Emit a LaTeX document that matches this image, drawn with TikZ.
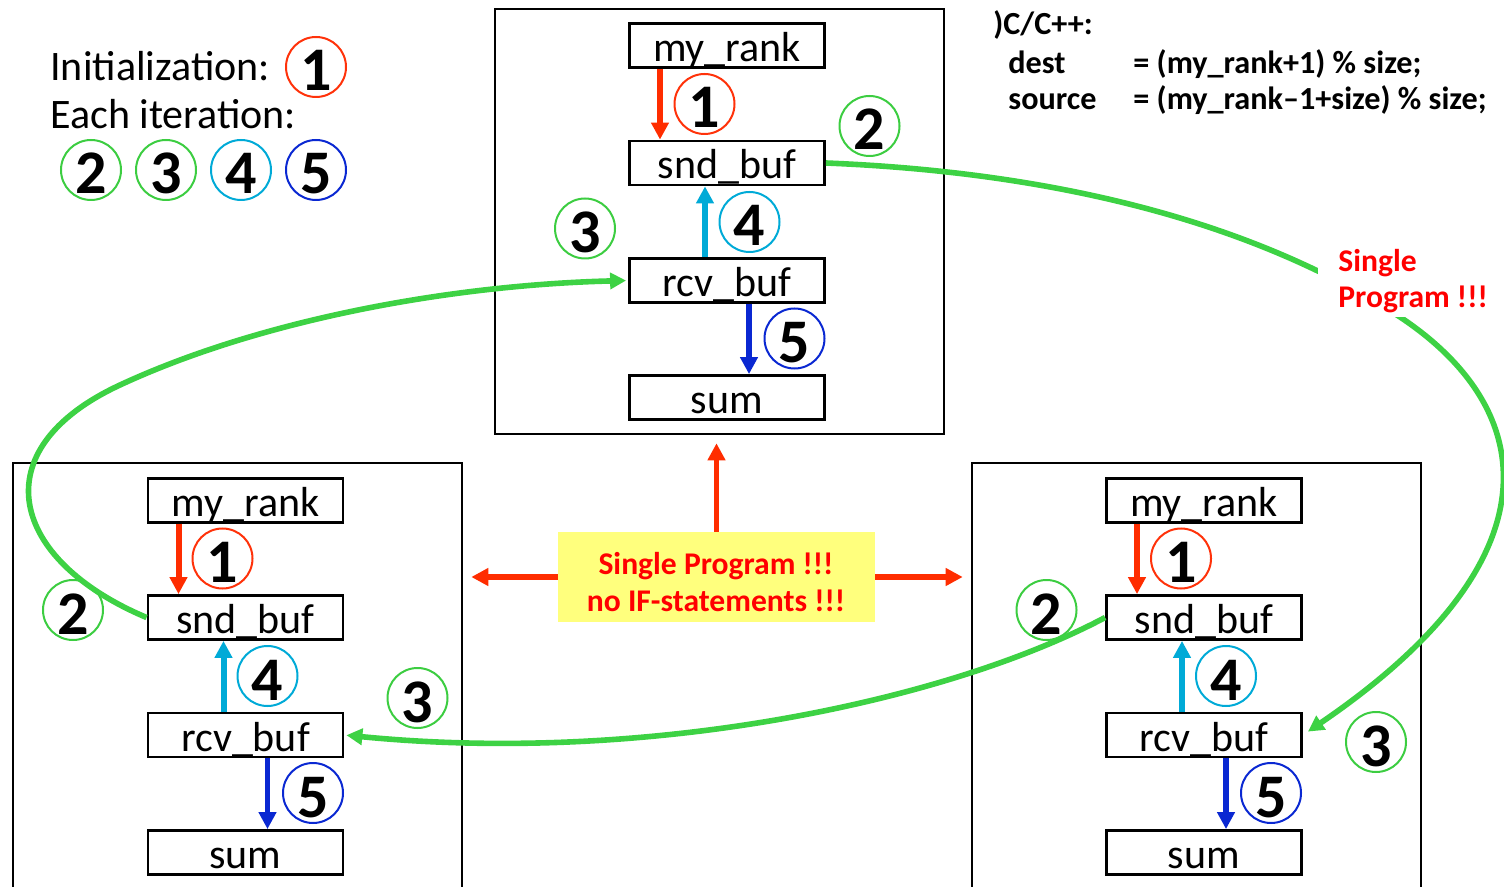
\documentclass[tikz,border=0pt]{standalone}
\usepackage{fontspec}
\setmainfont{Carlito}
\usetikzlibrary{arrows.meta}

\definecolor{arrred}{RGB}{255,45,0}
\definecolor{txtred}{RGB}{255,0,0}
\definecolor{ringred}{RGB}{255,50,10}
\definecolor{ringgreen}{RGB}{60,205,65}
\definecolor{flowgreen}{RGB}{61,210,68}
\definecolor{ringcyan}{RGB}{0,170,215}
\definecolor{ringblue}{RGB}{10,40,210}
\definecolor{notefill}{RGB}{255,255,125}

\tikzset{
  procbox/.style={draw, line width=1.3pt, inner sep=0pt, minimum width=224.5pt},
  cellbox/.style={draw, line width=1.4pt, inner sep=0pt, minimum width=97.5pt,
    minimum height=22pt, text height=19pt, text depth=3pt,
    font=\fontsize{21}{25}\selectfont},
  numc/.style={circle, draw, line width=1pt, inner sep=0pt, minimum size=30pt,
    text height=24pt, text depth=0pt, font=\bfseries\fontsize{31}{31}\selectfont},
  plaintext/.style={inner sep=0pt, font=\fontsize{21}{25}\selectfont},
  codetext/.style={inner sep=0pt, font=\bfseries\fontsize{16.1}{18}\selectfont},
  redtext/.style={text=txtred, font=\bfseries\fontsize{15.8}{18}\selectfont},
  tipA/.style={-{Triangle[length=8.5pt,width=8.5pt]}},
  initarrow/.style={tipA, draw=arrred, fill=arrred, line width=3pt},
  copyarrow/.style={tipA, draw=ringcyan, fill=ringcyan, line width=3pt},
  addarrow/.style={tipA, draw=ringblue, fill=ringblue, line width=2.8pt},
  notearrow/.style={tipA, draw=arrred, fill=arrred, line width=2.8pt, shorten >=4pt},
  flow/.style={-{Triangle[length=8pt,width=8pt]}, draw=flowgreen, line width=2.8pt},
}

\begin{document}
\begin{tikzpicture}[x=0.5pt, y=-0.5pt]
\useasboundingbox (0,0) rectangle (1504,887);

% legend
\node[plaintext, anchor=base west] (lgInit) at (50,81) {Initialization:};
\node[plaintext, anchor=base west] (lgIter) at (50,129) {Each iteration:};
\node[numc, draw=ringred]   (lg1) at (316,67)  {1};
\node[numc, draw=ringgreen] (lg2) at (91,170)  {2};
\node[numc, draw=ringgreen] (lg3) at (166,170) {3};
\node[numc, draw=ringcyan]  (lg4) at (241,170) {4};
\node[numc, draw=ringblue]  (lg5) at (316,170) {5};

% code excerpt
\node[codetext, anchor=base west] (cLang) at (993,35)  {)C/C++:};
\node[codetext, anchor=base west] (cDest) at (1008,74)  {dest};
\node[codetext, anchor=base west] (cSrc)  at (1008,110) {source};
\node[codetext, anchor=base west] (cDestE) at (1133,74)  {= (my\_rank+1) \% size;};
\node[codetext, anchor=base west] (cSrcE)  at (1133,110) {= (my\_rank–1+size) \% size;};

% process boxes
\node[procbox, minimum height=212.5pt] (procT) at (719.5,221.5) {};
\node[procbox, minimum height=216pt]   (procL) at (237.5,679) {};
\node[procbox, minimum height=216pt]   (procR) at (1196.5,679) {};

% top process
\node[cellbox] (myT)  at (727,45.5) {my\_rank};
\node[cellbox] (sndT) at (727,163)  {snd\_buf};
\node[cellbox] (rcvT) at (727,280.5) {rcv\_buf};
\node[cellbox] (sumT) at (727,397.5) {sum};

% left process
\node[cellbox] (myL)  at (245.5,500.5) {my\_rank};
\node[cellbox] (sndL) at (245.5,617.5) {snd\_buf};
\node[cellbox] (rcvL) at (245.5,735)   {rcv\_buf};
\node[cellbox] (sumL) at (245.5,852.5) {sum};

% right process
\node[cellbox] (myR)  at (1204,500.5) {my\_rank};
\node[cellbox] (sndR) at (1204,617.5) {snd\_buf};
\node[cellbox] (rcvR) at (1204,735)   {rcv\_buf};
\node[cellbox] (sumR) at (1204,852.5) {sum};

% local steps inside each process
\foreach \p in {T,L,R}{
  \draw[initarrow] ([xshift=-33.5pt]my\p.south) -- ([xshift=-33.5pt]snd\p.north);
  \draw[copyarrow] ([xshift=-11pt]rcv\p.north) -- ([xshift=-11pt]snd\p.south);
  \draw[addarrow]  ([xshift=11pt]rcv\p.south) -- ([xshift=11pt]sum\p.north);
}

% step numbers, top process
\node[numc, draw=ringred]   (t1) at (704.5,104) {1};
\node[numc, draw=ringgreen] (t2) at (869.5,126) {2};
\node[numc, draw=ringgreen] (t3) at (585,228.5) {3};
\node[numc, draw=ringcyan]  (t4) at (749.5,222) {4};
\node[numc, draw=ringblue]  (t5) at (794.5,338.5) {5};

% step numbers, left process
\node[numc, draw=ringred]   (l1) at (222.5,558.5) {1};
\node[numc, draw=ringgreen] (l2) at (73,610) {2};
\node[numc, draw=ringgreen] (l3) at (417.5,698) {3};
\node[numc, draw=ringcyan]  (l4) at (267.5,676) {4};
\node[numc, draw=ringblue]  (l5) at (313,793) {5};

% step numbers, right process
\node[numc, draw=ringred]   (r1) at (1181,558.5) {1};
\node[numc, draw=ringgreen] (r2) at (1046.5,610) {2};
\node[numc, draw=ringgreen] (r3) at (1376,742) {3};
\node[numc, draw=ringcyan]  (r4) at (1226,676) {4};
\node[numc, draw=ringblue]  (r5) at (1271,793) {5};

% ring communication
\coordinate (bendTR) at (1400,317);
\draw[flow, shorten >=3pt] (sndT.east) .. controls (1050,172) and (1250,220) .. (bendTR)
   .. controls (1540,410) and (1560,560) .. (rcvR.east);
\draw[flow, shorten >=1pt] (sndR.west) .. controls (950,700) and (650,765) .. (rcvL.east);
\coordinate (bendL) at (120,385);
\draw[flow, shorten >=1pt] (sndL.west) .. controls (10,560) and (-20,450) .. (bendL)
   .. controls (260,320) and (450,285) .. (rcvT.west);

% remark on the ring
\node[redtext, fill=white, align=left, anchor=base west, inner xsep=10pt, inner ysep=2pt]
  (spLabel) at (1318,308) {Single\\Program !!!};

% central note
\node[draw=none, fill=notefill, minimum width=158.5pt, minimum height=45pt, inner sep=0pt]
  (note) at (716.5,577) {};
\node[redtext, anchor=base] (noteA) at (716,574) {Single Program !!!};
\node[redtext, anchor=base] (noteB) at (716,611) {no IF-statements !!!};
\draw[notearrow] (note.north) -- (note.north |- procT.south);
\draw[notearrow] (note.west) -- (note.west -| procL.east);
\draw[notearrow] (note.east) -- (note.east -| procR.west);
\end{tikzpicture}
\end{document}
